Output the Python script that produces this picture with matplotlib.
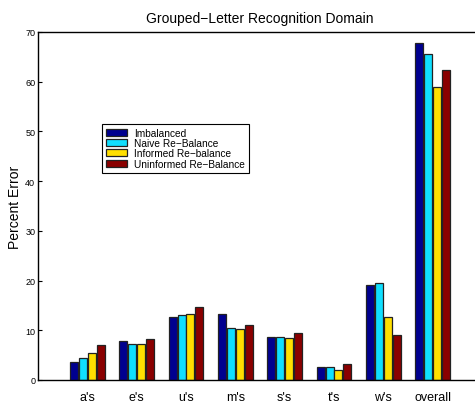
import numpy as np
import matplotlib
matplotlib.use("Agg")
import matplotlib.pyplot as plt

plt.rcParams['font.family'] = ['Liberation Sans', 'DejaVu Sans']

# percent error per letter group
groups = ["a's", "e's", "u's", "m's", "s's", "t's", "w's", "overall"]
imbalanced = [3.7, 7.8, 12.7, 13.3, 8.7, 2.7, 19.2, 67.8]
naive = [4.4, 7.2, 13.0, 10.5, 8.7, 2.6, 19.6, 65.5]
informed = [5.4, 7.2, 13.2, 10.3, 8.4, 2.1, 12.7, 58.9]
uninformed = [7.0, 8.2, 14.6, 11.0, 9.5, 3.3, 9.1, 62.4]

series = [
    ("Imbalanced", imbalanced, "#00008f"),
    ("Naive Re\u2212Balance", naive, "#10dfff"),
    ("Informed Re\u2212balance", informed, "#ffdf00"),
    ("Uninformed Re\u2212Balance", uninformed, "#8a0000"),
]

fig = plt.figure(figsize=(4.75, 4.06), dpi=100)
W, H = 475, 406
ax = fig.add_axes([38 / W, 1 - 381 / H, 444 / W, 348 / H])

x = np.arange(1, len(groups) + 1)
pitch = 0.18
for i, (name, vals, col) in enumerate(series):
    ax.bar(x + (i - 1.5) * pitch, vals, width=0.16, color=col,
           edgecolor="#222222", linewidth=0.9, label=name)

ax.set_xlim(0, 9)
ax.set_ylim(0, 70)
ax.set_xticks(x)
ax.set_xticklabels(groups, fontsize=9)
ax.set_yticks(range(0, 71, 10))
ax.tick_params(axis="y", direction="in", length=3, labelsize=6.5, pad=2)
ax.tick_params(axis="x", direction="in", length=0, pad=8)
for s in ["left", "top", "bottom"]:
    ax.spines[s].set_linewidth(1.0)
ax.spines["right"].set_visible(False)

ax.set_ylabel("Percent Error", fontsize=10, labelpad=2)
ax.set_title("Grouped\u2212Letter Recognition Domain", fontsize=10, pad=7)

leg = ax.legend(loc="upper left", bbox_to_anchor=(102 / W, 1 - 125 / H),
                bbox_transform=fig.transFigure, borderaxespad=0,
                fontsize=7.3, fancybox=False, edgecolor="black",
                handlelength=2.1, handleheight=0.7, labelspacing=0.02,
                handletextpad=0.7, borderpad=0.4, framealpha=1)
leg.get_frame().set_linewidth(0.8)

fig.savefig("out.png", dpi=100)
